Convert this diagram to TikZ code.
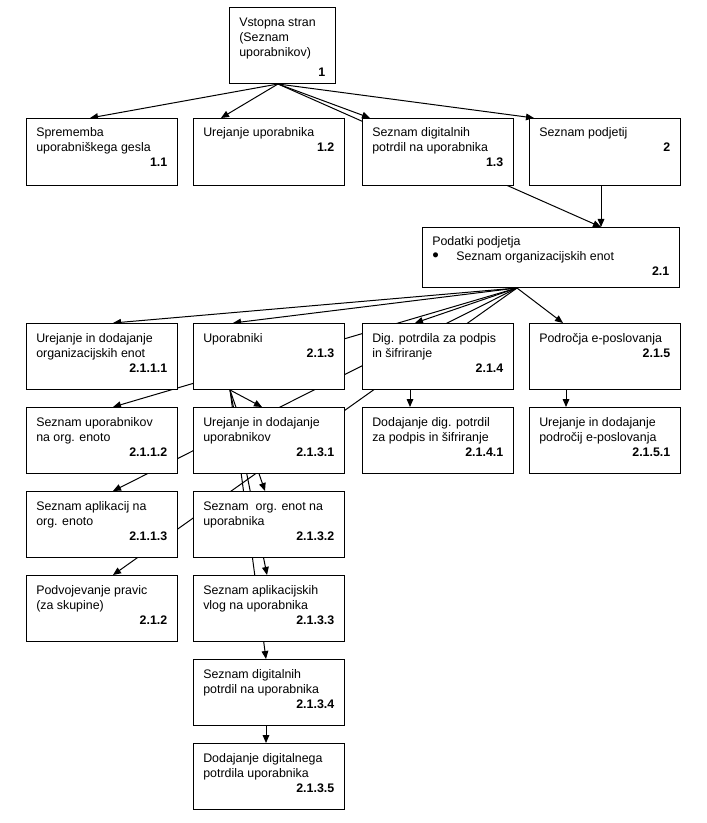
\documentclass[tikz,border=0pt]{standalone}
\usepackage{fontspec}
\setmainfont{Liberation Sans}
\usetikzlibrary{arrows.meta,calc,backgrounds}
\tikzset{
  boxnode/.style={draw=black, line width=0.75pt, fill=white, rectangle, inner sep=0pt, anchor=north west},
  txtnode/.style={inner sep=0pt, anchor=base west, font=\fontsize{9.3}{11.25}\selectfont},
  conn/.style={line width=0.75pt, -{Triangle[length=6pt,width=5pt]}},
}
\newcommand{\mkbox}[9]{%
  \node[boxnode, minimum width={(#4-#2)*0.75pt}, minimum height={(#5-#3)*0.75pt}] (#1) at (#2,#3) {};
  \node[txtnode] (#1t) at ($(#1.north west)+(10,#8)$)
    {\parbox[t]{\dimexpr(#4pt-#2pt-20pt)*3/4\relax}{\raggedright #6\par\vspace*{#9}\hfill\textbf{#7}}};
}
\begin{document}
\begin{tikzpicture}[x=0.75pt,y=-0.75pt]
\useasboundingbox (0,0) rectangle (706,823);

\mkbox{n1}{229}{7}{335}{83}{Vstopna stran\\(Seznam\\uporabnikov)}{1}{20}{3.5pt}

\mkbox{n11}{26}{118}{177}{185}{Sprememba\\uporabniškega gesla}{1.1}{19}{0pt}
\mkbox{n12}{193}{118}{344}{185}{Urejanje uporabnika}{1.2}{19}{0pt}
\mkbox{n13}{362}{118}{513}{185}{Seznam digitalnih\\potrdil na uporabnika}{1.3}{19}{0pt}
\mkbox{n2}{529}{118}{680}{185}{Seznam podjetij}{2}{19}{0pt}

\mkbox{n21}{422}{227}{679}{287}{Podatki podjetja\\\makebox[18pt][l]{\raisebox{-0.3pt}{\scalebox{1.5}{\textbullet}}}Seznam organizacijskih enot}{2.1}{19}{0pt}

\mkbox{n2111}{26}{323}{177}{389}{Urejanje in dodajanje\\organizacijskih enot}{2.1.1.1}{19}{0pt}
\mkbox{n213}{193}{323}{344}{389}{Uporabniki}{2.1.3}{19}{0pt}
\mkbox{n214}{362}{323}{513}{389}{Dig. potrdila za podpis\\in šifriranje}{2.1.4}{19}{0pt}
\mkbox{n215}{529}{323}{680}{389}{Področja e-poslovanja}{2.1.5}{19}{0pt}

\mkbox{n2112}{26}{407}{177}{473}{Seznam uporabnikov\\na org. enoto}{2.1.1.2}{19}{0pt}
\mkbox{n2131}{193}{407}{344}{473}{Urejanje in dodajanje\\uporabnikov}{2.1.3.1}{19}{0pt}
\mkbox{n2141}{362}{407}{513}{473}{Dodajanje dig. potrdil\\za podpis in šifriranje}{2.1.4.1}{19}{0pt}
\mkbox{n2151}{529}{407}{680}{473}{Urejanje in dodajanje\\področij e-poslovanja}{2.1.5.1}{19}{0pt}

\mkbox{n2113}{26}{491}{177}{557}{Seznam aplikacij na\\org. enoto}{2.1.1.3}{19}{0pt}
\mkbox{n2132}{193}{491}{344}{557}{Seznam~ org. enot na\\uporabnika}{2.1.3.2}{19}{0pt}

\mkbox{n212}{26}{575}{177}{641}{Podvojevanje pravic\\(za skupine)}{2.1.2}{19}{0pt}
\mkbox{n2133}{193}{575}{344}{641}{Seznam aplikacijskih\\vlog na uporabnika}{2.1.3.3}{19}{0pt}

\mkbox{n2134}{193}{659}{344}{725}{Seznam digitalnih\\potrdil na uporabnika}{2.1.3.4}{19}{0pt}
\mkbox{n2135}{193}{743}{344}{809}{Dodajanje digitalnega\\potrdila uporabnika}{2.1.3.5}{19}{0pt}

\begin{pgfonlayer}{background}
\fill[white] (0,0) rectangle (706,823);
% from 1
\draw[conn] ($(n1.south west)+(49,0)$) -- ($(n11.north west)+(64,0)$);
\draw[conn] ($(n1.south west)+(49,0)$) -- ($(n12.north west)+(28,0)$);
\draw[conn] ($(n1.south west)+(49,0)$) -- ($(n13.north west)+(8,0)$);
\draw[conn] ($(n1.south west)+(49,0)$) -- ($(n2.north west)+(5,0)$);
\draw[conn] ($(n1.south west)+(49,0)$) -- ($(n21.north west)+(179,0)$);
% from 2
\draw[conn] ($(n2.south west)+(72,0)$) -- ($(n21.north west)+(179,0)$);
% from 2.1
\draw[conn] ($(n21.south west)+(95,0)$) -- ($(n2111.north west)+(87,0)$);
\draw[conn] ($(n21.south west)+(95,0)$) -- ($(n213.north west)+(40,0)$);
\draw[conn] ($(n21.south west)+(95,0)$) -- ($(n214.north west)+(53,0)$);
\draw[conn] ($(n21.south west)+(95,0)$) -- ($(n215.north west)+(34,0)$);
\draw[conn] ($(n21.south west)+(95,0)$) -- ($(n2112.north west)+(87,0)$);
\draw[conn] ($(n21.south west)+(95,0)$) -- ($(n2113.north west)+(87,0)$);
\draw[conn] ($(n21.south west)+(95,0)$) -- ($(n212.north west)+(87,0)$);
% from 2.1.3
\draw[conn] ($(n213.south west)+(37,0)$) -- ($(n2131.north west)+(69,0)$);
\draw[conn] ($(n213.south west)+(37,0)$) -- ($(n2132.north west)+(72,0)$);
\draw[conn] ($(n213.south west)+(37,0)$) -- ($(n2133.north west)+(74,0)$);
\draw[conn] ($(n213.south west)+(37,0)$) -- ($(n2134.north west)+(73,0)$);
% vertical
\draw[conn] ($(n214.south west)+(48,0)$) -- ($(n2141.north west)+(48,0)$);
\draw[conn] ($(n215.south west)+(37,0)$) -- ($(n2151.north west)+(37,0)$);
\draw[conn] ($(n2134.south west)+(73,0)$) -- ($(n2135.north west)+(73,0)$);
\end{pgfonlayer}
\end{tikzpicture}
\end{document}
